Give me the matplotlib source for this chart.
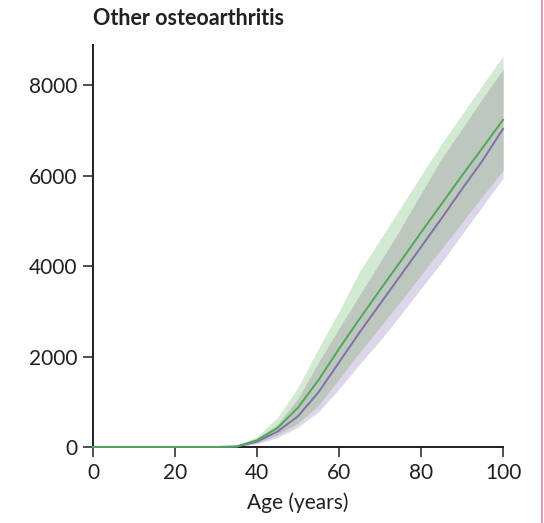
import matplotlib
matplotlib.use("Agg")
import matplotlib.pyplot as plt
import numpy as np
from matplotlib.lines import Line2D

plt.rcParams["font.family"] = ["Lato", "DejaVu Sans"]

ages = [0, 5, 10, 15, 20, 25, 30, 35, 40, 45, 50, 55, 60, 65, 70, 75, 80, 85, 90, 95, 100]

green_mean = [0, 0, 0, 0, 0, 0, 0, 10, 150, 420, 870, 1480, 2170, 2830, 3470, 4100, 4740, 5370, 6000, 6610, 7230]
green_low = [0, 0, 0, 0, 0, 0, 0, 5, 90, 270, 530, 920, 1500, 2090, 2650, 3220, 3800, 4380, 4960, 5540, 6120]
green_high = [0, 0, 0, 0, 0, 0, 0, 20, 230, 650, 1320, 2180, 3000, 3880, 4580, 5290, 6000, 6700, 7350, 8000, 8640]

purple_mean = [0, 0, 0, 0, 0, 0, 0, 10, 120, 340, 680, 1210, 1870, 2530, 3160, 3790, 4420, 5050, 5700, 6330, 7030]
purple_low = [0, 0, 0, 0, 0, 0, 0, 5, 70, 210, 440, 780, 1280, 1830, 2350, 2920, 3500, 4080, 4700, 5320, 5945]
purple_high = [0, 0, 0, 0, 0, 0, 0, 15, 190, 500, 1070, 1870, 2620, 3350, 4080, 4820, 5600, 6370, 7030, 7700, 8350]

x_ticks = [0, 20, 40, 60, 80, 100]
y_ticks = [0, 2000, 4000, 6000, 8000]

GREEN_FILL = "#d3ead2"
PURPLE_FILL = "#ddd5ea"
OVERLAP_FILL = "#bdc7be"
GREEN_LINE = "#4fa75c"
PURPLE_LINE = "#7f70a8"
INK = "#231f20"

fig = plt.figure(figsize=(5.44, 5.23), dpi=100)
ax = fig.add_axes([93 / 544, 1 - 447 / 523, 410 / 544, 402 / 523])

ax.fill_between(ages, green_low, green_high, color=GREEN_FILL, lw=0)
ax.fill_between(ages, purple_low, purple_high, color=PURPLE_FILL, lw=0)
ov_low = np.maximum(green_low, purple_low)
ov_high = np.minimum(green_high, purple_high)
ax.fill_between(ages, ov_low, ov_high, where=ov_high >= ov_low, color=OVERLAP_FILL, lw=0)
ax.plot(ages, purple_mean, color=PURPLE_LINE, lw=1.4, clip_on=False, zorder=3)
ax.plot(ages, green_mean, color=GREEN_LINE, lw=1.4, clip_on=False, zorder=4)

ax.set_xlim(0, 100)
ax.set_ylim(0, 8884)
ax.set_xticks(x_ticks)
ax.set_yticks(y_ticks)
ax.set_xticklabels([str(v) for v in x_ticks])
ax.set_yticklabels([str(v) for v in y_ticks])
for side in ["top", "right"]:
    ax.spines[side].set_visible(False)
for side in ["left", "bottom"]:
    ax.spines[side].set_color(INK)
    ax.spines[side].set_linewidth(1.4)
ax.tick_params(direction="out", length=7.5, width=1.1, color=INK, labelcolor=INK,
               labelsize=15, pad=4)
ax.set_xlabel("Age (years)", fontsize=15, color=INK, labelpad=7)

fig.text(93 / 544, 1 - 25 / 523, "Other osteoarthritis", fontsize=15.5, fontweight="bold",
         color=INK, ha="left", va="baseline")

fig.add_artist(Line2D([542 / 544, 542 / 544], [0, 1], color="#e07fa0", lw=1.2,
                      transform=fig.transFigure))

fig.savefig("out.png", dpi=100)
